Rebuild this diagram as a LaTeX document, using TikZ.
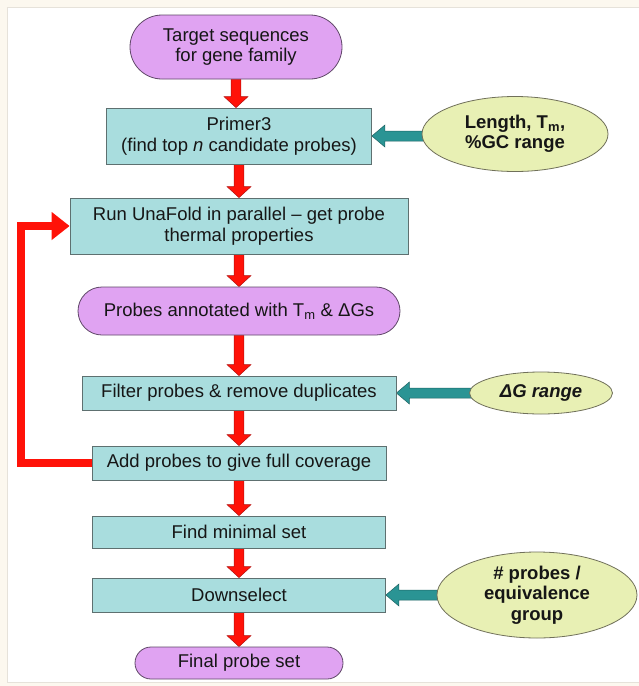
\documentclass[tikz,border=0pt]{standalone}
\usepackage{fontspec}
\setmainfont{Liberation Sans}
\usetikzlibrary{shapes.misc,shapes.geometric,arrows.meta,calc}
\definecolor{boxfill}{HTML}{A9DDDE}
\definecolor{boxline}{HTML}{5E7070}
\definecolor{purfill}{HTML}{E0A3F2}
\definecolor{purline}{HTML}{604868}
\definecolor{ellfill}{HTML}{E8F0B4}
\definecolor{ellline}{HTML}{70705A}
\definecolor{arrred}{HTML}{FF1208}
\definecolor{arrredline}{HTML}{B01010}
\definecolor{arrteal}{HTML}{2A9494}
\definecolor{arrtealline}{HTML}{1E6464}
\definecolor{txt}{HTML}{161616}
\definecolor{framebg}{HTML}{FCF8EF}
\definecolor{frameline}{HTML}{E6E2DA}
\pgfdeclarelayer{framelayer}
\pgfdeclarelayer{arrowlayer}
\pgfsetlayers{framelayer,arrowlayer,main}
\tikzset{
  x=1pt, y=-1pt,
  every node/.style={font=\fontsize{18.5}{20.5}\selectfont, text=txt, align=center, inner sep=0pt},
  stepbox/.style={rectangle, fill=boxfill, draw=boxline, line width=0.8pt},
  termbox/.style={rounded rectangle, fill=purfill, draw=purline, line width=0.8pt},
  parambox/.style={ellipse, fill=ellfill, draw=ellline, line width=0.8pt, font=\fontsize{18.5}{20.5}\selectfont\bfseries},
  redflow/.style={fill=arrred, draw=arrredline, line width=0.5pt, line join=miter},
  tealflow/.style={fill=arrteal, draw=arrtealline, line width=0.5pt, line join=miter},
  loopline/.style={draw=arrred, line width=8pt, line join=miter, -{Triangle[width=27pt,length=18pt]}},
}
\newcommand{\downflow}[2]{%
  \begin{pgfonlayer}{arrowlayer}
  \path[redflow] let \p1=(#1), \p2=(#2) in
    (\x1-4.8pt,\y1+1pt) -- (\x1-4.8pt,\y2+11pt) -- (\x1-12pt,\y2+11pt) -- (\x1,\y2) --
    (\x1+12pt,\y2+11pt) -- (\x1+4.8pt,\y2+11pt) -- (\x1+4.8pt,\y1+1pt) -- cycle;
  \end{pgfonlayer}}
\newcommand{\leftflow}[2]{%
  \begin{pgfonlayer}{arrowlayer}
  \path[tealflow] let \p1=(#1), \p2=(#2) in
    (\x1+4pt,\y2-5pt) -- (\x2+13pt,\y2-5pt) -- (\x2+13pt,\y2-11pt) -- (\x2,\y2) --
    (\x2+13pt,\y2+11pt) -- (\x2+13pt,\y2+5pt) -- (\x1+4pt,\y2+5pt) -- cycle;
  \end{pgfonlayer}}
\begin{document}
\begin{tikzpicture}
\useasboundingbox (0,0) rectangle (639,686);
\begin{pgfonlayer}{framelayer}
  \fill[framebg] (0,0) rectangle (639,686);
  \filldraw[fill=white, draw=frameline, line width=0.8pt] (7,7) rectangle (650,682);
\end{pgfonlayer}

\node[termbox, minimum width=212, minimum height=64] (tgt) at (236,47) {Target sequences\\for gene family};
\node[stepbox, minimum width=265, minimum height=56] (p3) at (239,136) {Primer3\\(find top \textit{n} candidate probes)};
\node[parambox, minimum width=186, minimum height=75] (len) at (515,134) {Length, T\textsubscript{m},\\\%GC range};
\node[stepbox, minimum width=338, minimum height=56] (una) at (239,226) {Run UnaFold in parallel -- get probe\\thermal properties};
\node[termbox, minimum width=322, minimum height=48] (ann) at (239,311) {Probes annotated with T\textsubscript{m} \& ΔGs};
\node[stepbox, minimum width=314, minimum height=34] (filt) at (239,393) {Filter probes \& remove duplicates};
\node[parambox, minimum width=143, minimum height=42, font=\fontsize{18.5}{20.5}\selectfont\bfseries\itshape] (dg) at (541,393) {ΔG range};
\node[stepbox, minimum width=294, minimum height=34] (add) at (239,463) {Add probes to give full coverage};
\node[stepbox, minimum width=293, minimum height=32] (minset) at (239,532) {Find minimal set};
\node[stepbox, minimum width=293, minimum height=34] (down) at (239,595) {Downselect};
\node[parambox, minimum width=200, minimum height=86] (grp) at (537,595) {\# probes /\\equivalence\\group};
\node[termbox, minimum width=208, minimum height=32] (fin) at (239,663) {Final probe set};

\downflow{tgt.south}{p3.north}
\downflow{p3.south}{una.north}
\downflow{una.south}{ann.north}
\downflow{ann.south}{filt.north}
\downflow{filt.south}{add.north}
\downflow{add.south}{minset.north}
\downflow{minset.south}{down.north}
\downflow{down.south}{fin.north}

\leftflow{len.west}{p3.east}
\leftflow{dg.west}{filt.east}
\leftflow{grp.west}{down.east}

\coordinate (loopx) at (21,463);
\begin{pgfonlayer}{arrowlayer}
\draw[loopline] (add.west) -- (add.west -| loopx) |- (una.west);
\end{pgfonlayer}
\end{tikzpicture}
\end{document}
